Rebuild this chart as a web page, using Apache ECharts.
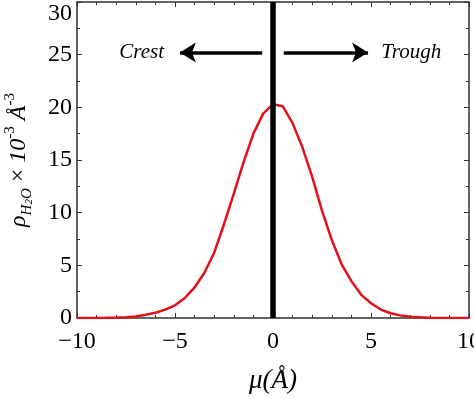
<!DOCTYPE html>
<html>
<head>
<meta charset="utf-8">
<script src="https://cdn.jsdelivr.net/npm/echarts@6/dist/echarts.min.js"></script>
<style>
  html, body { margin: 0; padding: 0; background: #fff; }
  #main { width: 474px; height: 399px; }
</style>
</head>
<body>
<div id="main"></div>
<script>
// mu (Angstrom) and water density values
var muValues = [-10, -9.5, -9, -8.5, -8, -7.5, -7, -6.5, -6, -5.5, -5, -4.5, -4, -3.5, -3, -2.5, -2, -1.5, -1, -0.5,
                0, 0.5, 1, 1.5, 2, 2.5, 3, 3.5, 4, 4.5, 5, 5.5, 6, 6.5, 7, 7.5, 8, 8.5, 9, 9.5, 10];
var rhoValues = [0, 0, 0.01, 0.02, 0.04, 0.08, 0.15, 0.3, 0.5, 0.8, 1.2, 1.9, 2.9, 4.3, 6.2, 8.9, 11.8, 14.8, 17.5, 19.4,
                 20.3, 20.1, 18.5, 16.2, 13.4, 10.2, 7.4, 5.1, 3.5, 2.2, 1.4, 0.8, 0.45, 0.25, 0.12, 0.06, 0.03, 0.01, 0, 0, 0];

var xTicks = [-10, -5, 0, 5, 10];
var yTicks = [0, 5, 10, 15, 20, 25, 30];

// annotation: arrows and words
var arrowY = 25.2;
var crestArrow = [-0.55, -4.75];
var troughArrow = [0.55, 4.85];
var labels = [[-6.7, 25.2, 'Crest'], [7.05, 25.2, 'Trough']];

var serif = '"Liberation Serif", "DejaVu Serif", serif';
var axisCol = '#333';

var curve = muValues.map(function (m, i) { return [m, rhoValues[i]]; });

var chart = echarts.init(document.getElementById('main'));
var option = {
    backgroundColor: '#fff',
    animation: false,
    grid: { left: 77, right: 5, top: 2, bottom: 81, outerBoundsMode: 'none', containLabel: false },
    textStyle: { fontFamily: serif },
    xAxis: [
        {
            type: 'value',
            min: xTicks[0], max: xTicks[xTicks.length - 1], interval: 5,
            name: 'μ(Å)',
            nameLocation: 'middle',
            nameGap: 49,
            nameTextStyle: { fontFamily: serif, fontStyle: 'italic', fontSize: 27, color: '#000' },
            axisLine: { lineStyle: { color: axisCol, width: 1.5 } },
            axisTick: { inside: true, length: 5, lineStyle: { color: axisCol } },
            minorTick: { show: true, splitNumber: 5, length: 3, lineStyle: { color: axisCol } },
            axisLabel: {
                margin: 12, fontSize: 24, color: '#000', fontFamily: serif,
                formatter: function (v) { return String(v).replace('-', '\u2212'); }
            },
            splitLine: { show: false }
        },
        {
            type: 'value', position: 'top',
            min: -10, max: 10, interval: 5,
            axisLine: { onZero: false, lineStyle: { color: axisCol, width: 1.5 } },
            axisTick: { inside: true, length: 5, lineStyle: { color: axisCol } },
            minorTick: { show: true, splitNumber: 5, length: 3, lineStyle: { color: axisCol } },
            axisLabel: { show: false },
            splitLine: { show: false }
        }
    ],
    yAxis: [
        {
            type: 'value',
            min: yTicks[0], max: yTicks[yTicks.length - 1], interval: 5,
            name: '{i|ρ}{s|H}{ss|2}{s|O}{n| × }{i|10}{p|-3}{i| Å}{p|-3}',
            nameLocation: 'middle',
            nameGap: 42,
            nameRotate: 90,
            nameTextStyle: {
                color: '#000',
                rich: {
                    i: { fontFamily: serif, fontStyle: 'italic', fontSize: 24, lineHeight: 32 },
                    n: { fontFamily: serif, fontSize: 24, lineHeight: 32 },
                    s: { fontFamily: serif, fontStyle: 'italic', fontSize: 15, verticalAlign: 'bottom', lineHeight: 15 },
                    ss: { fontFamily: serif, fontStyle: 'italic', fontSize: 11, verticalAlign: 'bottom', lineHeight: 11 },
                    p: { fontFamily: serif, fontSize: 15, verticalAlign: 'top', lineHeight: 15 }
                }
            },
            axisLine: { onZero: false, lineStyle: { color: axisCol, width: 1.5 } },
            axisTick: { inside: true, length: 5, lineStyle: { color: axisCol } },
            minorTick: { show: true, splitNumber: 2, length: 3, lineStyle: { color: axisCol } },
            axisLabel: {
                margin: 5, fontSize: 24, color: '#000', fontFamily: serif,
                verticalAlignMaxLabel: 'top'
            },
            splitLine: { show: false }
        },
        {
            type: 'value', position: 'right',
            min: 0, max: 30, interval: 5,
            axisLine: { show: true, onZero: false, lineStyle: { color: axisCol, width: 1.5 } },
            axisTick: { show: true, inside: true, length: 5, lineStyle: { color: axisCol } },
            minorTick: { show: true, splitNumber: 2, length: 3, lineStyle: { color: axisCol } },
            axisLabel: { show: false },
            splitLine: { show: false }
        }
    ],
    series: [
        {
            type: 'line',
            data: curve,
            symbol: 'none',
            smooth: false,
            lineStyle: { color: '#e3101a', width: 2.5 },
            z: 2
        },
        {
            type: 'line',
            data: [],
            z: 3,
            markLine: {
                silent: true,
                animation: false,
                symbol: ['none', 'none'],
                label: { show: false },
                data: [
                    {
                        xAxis: 0,
                        lineStyle: { color: '#000', width: 5.5, type: 'solid' }
                    },
                    [
                        { coord: [crestArrow[0], arrowY], symbol: 'none' },
                        { coord: [crestArrow[1], arrowY], symbol: 'arrow', symbolSize: [15, 16] }
                    ],
                    [
                        { coord: [troughArrow[0], arrowY], symbol: 'none' },
                        { coord: [troughArrow[1], arrowY], symbol: 'arrow', symbolSize: [15, 16] }
                    ]
                ],
                lineStyle: { color: '#000', width: 3.5, type: 'solid' }
            }
        },
        {
            type: 'scatter',
            data: labels,
            symbolSize: 0,
            z: 4,
            itemStyle: { opacity: 1 },
            label: {
                show: true,
                position: 'inside',
                fontFamily: serif,
                fontStyle: 'italic',
                fontSize: 21,
                color: '#000',
                formatter: function (p) { return p.data[2]; }
            }
        }
    ]
};
chart.setOption(option);
</script>
</body>
</html>
